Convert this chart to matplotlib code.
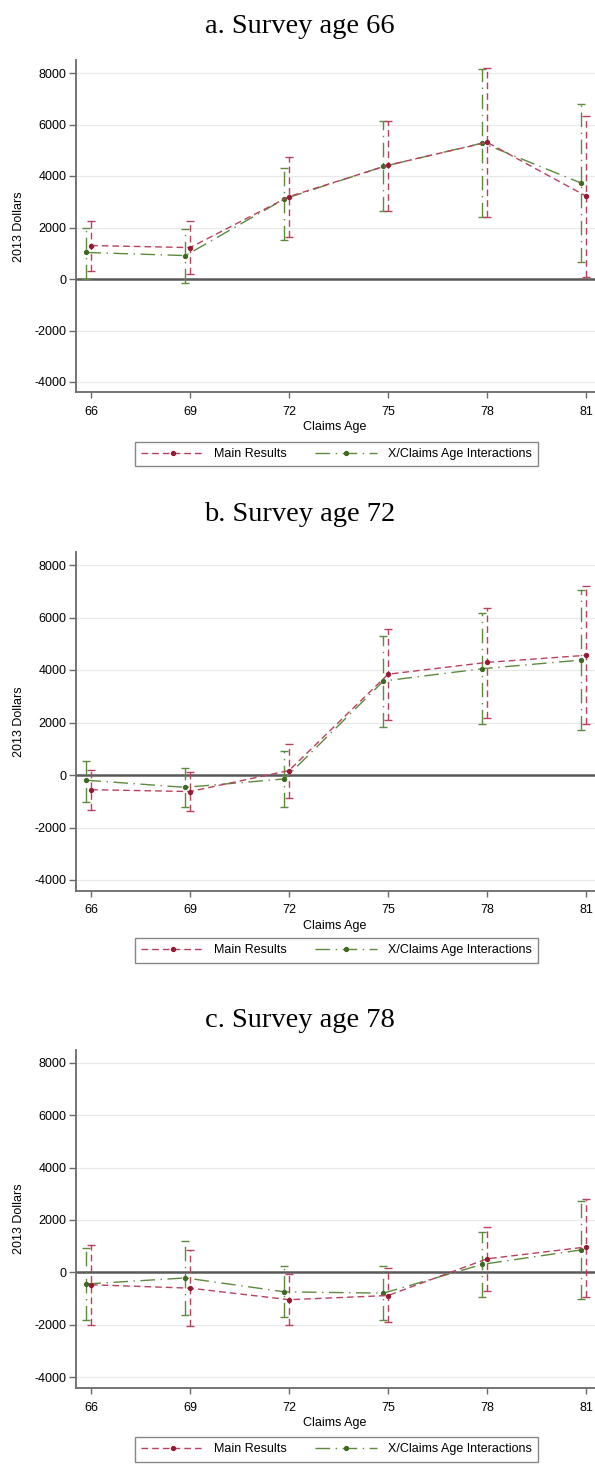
import matplotlib
matplotlib.use("Agg")
import matplotlib.pyplot as plt
from matplotlib.lines import Line2D

plt.rcParams['font.family'] = ['Liberation Sans', 'DejaVu Sans']

# ---------------- data ----------------
claims_age = [66, 69, 72, 75, 78, 81]
xticks = [66, 69, 72, 75, 78, 81]
yticks = [-4000, -2000, 0, 2000, 4000, 6000, 8000]
titles = ["a. Survey age 66", "b. Survey age 72", "c. Survey age 78"]
series_labels = ["Main Results", "X/Claims Age Interactions"]

# Panel a: survey age 66
main_est_a = [1300, 1220, 3200, 4420, 5310, 3220]
main_lo_a = [320, 200, 1640, 2630, 2400, 90]
main_hi_a = [2270, 2240, 4730, 6130, 8180, 6340]
int_est_a = [1030, 910, 3110, 4370, 5280, 3720]
int_lo_a = [10, -150, 1520, 2630, 2420, 660]
int_hi_a = [2000, 1950, 4300, 6150, 8140, 6780]

# Panel b: survey age 72
main_est_b = [-560, -630, 170, 3840, 4290, 4560]
main_lo_b = [-1330, -1370, -880, 2080, 2170, 1930]
main_hi_b = [200, 100, 1190, 5550, 6380, 7200]
int_est_b = [-200, -470, -150, 3580, 4050, 4380]
int_lo_b = [-1010, -1200, -1200, 1830, 1930, 1730]
int_hi_b = [550, 270, 910, 5310, 6160, 7050]

# Panel c: survey age 78
main_est_c = [-470, -600, -1040, -880, 520, 970]
main_lo_c = [-1990, -2030, -2000, -1900, -700, -920]
main_hi_c = [1060, 840, -50, 180, 1740, 2800]
int_est_c = [-440, -210, -740, -790, 310, 860]
int_lo_c = [-1820, -1620, -1710, -1820, -920, -1010]
int_hi_c = [930, 1190, 230, 230, 1550, 2720]

panel_data = [
    (main_est_a, main_lo_a, main_hi_a, int_est_a, int_lo_a, int_hi_a),
    (main_est_b, main_lo_b, main_hi_b, int_est_b, int_lo_b, int_hi_b),
    (main_est_c, main_lo_c, main_hi_c, int_est_c, int_lo_c, int_hi_c),
]

# ---------------- layout (pixels) ----------------
W, H = 595, 1464
layout = [
    dict(y8000=73.0, ym4000=382.0, title_base=33, legend_top=442),
    dict(y8000=565.0, ym4000=880.0, title_base=521, legend_top=938),
    dict(y8000=1062.7, ym4000=1377.3, title_base=1027, legend_top=1437),
]
AX_LEFT, AX_RIGHT = 76, 595
XLIM = (65.545, 81.27)
YLIM = (-4400, 8500)
OFFSET = -0.14

RED_LINE = "#b9415f"
RED_MARK = "#961a32"
GREEN_LINE = "#5e8a3c"
GREEN_MARK = "#3d6a22"
SPINE = "#6a6a6a"
RED_DASH = (4.8, 2.9)
GREEN_DASH = (10.5, 4.0, 1.0, 4.0)


def fx(px):
    return px / W


def fy(py):
    return 1 - py / H


fig = plt.figure(figsize=(W / 100, H / 100), dpi=100)

for i, (title, lay, data) in enumerate(zip(titles, layout, panel_data)):
    m_est, m_lo, m_hi, g_est, g_lo, g_hi = data
    ppu = (lay["ym4000"] - lay["y8000"]) / 12000.0
    top_px = lay["y8000"] - (YLIM[1] - 8000) * ppu
    bot_px = lay["ym4000"] + (-4000 - YLIM[0]) * ppu
    ax = fig.add_axes([fx(AX_LEFT), fy(bot_px), (AX_RIGHT - AX_LEFT) / W,
                       (bot_px - top_px) / H])
    ax.set_xlim(*XLIM)
    ax.set_ylim(*YLIM)

    for yv in yticks:
        if yv != 0:
            ax.axhline(yv, color="#e9e9e9", lw=0.9, zorder=0)
    ax.axhline(0, color="#595959", lw=1.8, zorder=1)

    xg = [a + OFFSET for a in claims_age]
    series = [
        (xg, g_est, g_lo, g_hi, GREEN_LINE, GREEN_MARK, GREEN_DASH),
        (claims_age, m_est, m_lo, m_hi, RED_LINE, RED_MARK, RED_DASH),
    ]
    for xs, est, lo, hi, lc, mc, dash in series:
        yerr = [[e - l for e, l in zip(est, lo)], [h - e for e, h in zip(est, hi)]]
        eb = ax.errorbar(xs, est, yerr=yerr, fmt="none", ecolor=lc, elinewidth=1.0,
                         capsize=2.6, capthick=1.0, zorder=3)
        for coll in eb[2]:
            coll.set_linestyle((0, dash))
        ax.plot(xs, est, color=lc, lw=1.0, dashes=dash, marker="o", markersize=2.8,
                markerfacecolor=mc, markeredgecolor=mc, zorder=4)

    ax.set_xticks(xticks)
    ax.set_yticks(yticks)
    ax.set_yticklabels([str(v) for v in yticks])
    ax.tick_params(axis="y", length=5, width=1.0, color=SPINE, pad=2, labelsize=9)
    ax.tick_params(axis="x", length=4, width=1.0, color=SPINE, pad=6, labelsize=9)
    for s in ["top", "right"]:
        ax.spines[s].set_visible(False)
    for s in ["left", "bottom"]:
        ax.spines[s].set_color(SPINE)
        ax.spines[s].set_linewidth(1.3)

    fig.text(fx(19), fy((top_px + bot_px) / 2), "2013 Dollars", rotation=90,
             ha="center", va="center", fontsize=9)
    fig.text(fx(335), fy(bot_px + 35), "Claims Age", ha="center", va="center",
             fontsize=9)
    fig.text(fx(300), fy(lay["title_base"]), title, ha="center", va="baseline",
             fontsize=20.5, family=["Liberation Serif", "DejaVu Serif"])

    handles = [
        Line2D([], [], color=RED_LINE, lw=1.0, dashes=RED_DASH, marker="o",
               markersize=2.8, markerfacecolor=RED_MARK, markeredgecolor=RED_MARK),
        Line2D([], [], color=GREEN_LINE, lw=1.0, dashes=GREEN_DASH, marker="o",
               markersize=2.8, markerfacecolor=GREEN_MARK, markeredgecolor=GREEN_MARK),
    ]
    leg = fig.legend(handles, series_labels, loc="upper left",
                     bbox_to_anchor=(fx(135), fy(lay["legend_top"])), ncol=2,
                     frameon=True, fancybox=False, edgecolor=SPINE, borderpad=0.5,
                     handlelength=5.0, handletextpad=0.85, columnspacing=2.2,
                     fontsize=9, borderaxespad=0, numpoints=1)
    leg.get_frame().set_linewidth(1.0)

fig.savefig("out.png", dpi=100)
